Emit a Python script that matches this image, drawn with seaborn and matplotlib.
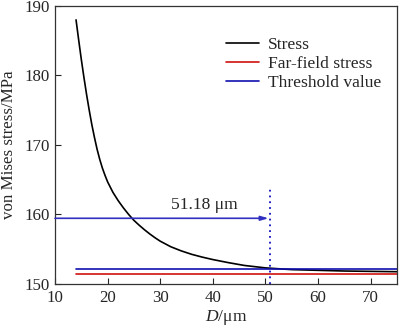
import matplotlib
matplotlib.use("Agg")
import matplotlib.pyplot as plt
import seaborn as sns
import pandas as pd

# ---- data ----
D_um = [14, 14.5, 15, 15.5, 16, 16.5, 17, 17.5, 18, 18.5, 19, 19.5, 20, 21, 22, 23, 24, 25,
        26, 27, 28, 29, 30, 32, 34, 36, 38, 40, 43, 46, 50, 55, 60, 65, 70, 75]
stress = [188.0, 185.1, 182.3, 179.7, 177.25, 175.0, 172.9, 171.05, 169.35, 167.9, 166.65,
          165.6, 164.65, 163.15, 161.95, 160.9, 159.95, 159.1, 158.4, 157.75, 157.15, 156.6,
          156.1, 155.3, 154.7, 154.2, 153.8, 153.45, 153.0, 152.6, 152.25, 152.0, 151.9,
          151.8, 151.75, 151.7]
D_range = [14, 75]
far_field = [151.35, 151.35]
threshold = [152.1, 152.1]
critical_D = 50.8
arrow_y = 159.4
label_text = "51.18 μm"
legend_labels = ["Stress", "Far-field stress", "Threshold value"]

sns.set_style("ticks")
plt.rcParams['font.family'] = ['Liberation Serif', 'DejaVu Serif']
plt.rcParams['mathtext.fontset'] = 'custom'
plt.rcParams['mathtext.it'] = 'Liberation Serif:italic'
plt.rcParams['mathtext.rm'] = 'Liberation Serif'

fig = plt.figure(figsize=(4.0, 3.28), dpi=100)
ax = fig.add_axes([55/400, 1-283.5/328, 342/400, 277.5/328])

df = pd.DataFrame({"D": D_um, "s": stress})
sns.lineplot(data=df, x="D", y="s", ax=ax, color="black", lw=1.2, label=legend_labels[0])
sns.lineplot(x=D_range, y=far_field, ax=ax, color="#d01010", lw=1.2, label=legend_labels[1])
sns.lineplot(x=D_range, y=threshold, ax=ax, color="#1010b0", lw=1.2, label=legend_labels[2])

ax.plot([critical_D, critical_D], [150, 163.8], color="#1010c0", ls=(0, (1, 2.2)), lw=1.3)
ax.annotate("", xy=(50.6, arrow_y), xytext=(10, arrow_y),
            arrowprops=dict(arrowstyle="-|>,head_length=0.45,head_width=0.13",
                            color="#3030c0", lw=1.2, shrinkA=0, shrinkB=0))
ax.text(38.3, 160.1, label_text, ha="center", va="bottom", fontsize=12.6)

ax.set_xlim(10, 75)
ax.set_ylim(150, 190)
ax.set_xticks([10, 20, 30, 40, 50, 60, 70])
ax.set_yticks([150, 160, 170, 180, 190])
ax.tick_params(direction="in", length=4, width=0.8, labelsize=12.2)
ax.tick_params(axis="x", pad=5)
ax.tick_params(axis="y", pad=4)
for sp in ax.spines.values():
    sp.set_visible(True)
    sp.set_linewidth(0.9)
    sp.set_color("#333333")
ax.set_xlabel("$D$/μm", fontsize=12.6, labelpad=1)
ax.set_ylabel("von Mises stress/MPa", fontsize=12.2, labelpad=5)

ax.legend(loc="upper left", bbox_to_anchor=(226/400, 1-37/328), bbox_transform=fig.transFigure,
          frameon=False, fontsize=12.6, handlelength=1.9, labelspacing=0.15,
          borderpad=0, borderaxespad=0, handletextpad=0.5)

fig.savefig("out.png", dpi=100)
